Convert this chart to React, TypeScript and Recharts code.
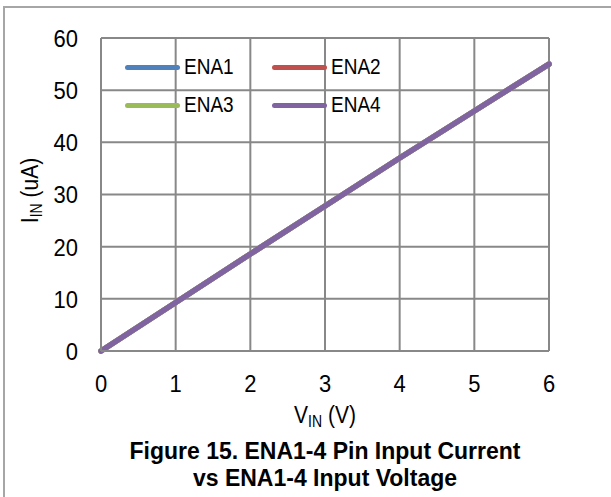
import React from "react";
import { LineChart, Line, XAxis, YAxis, CartesianGrid, Legend } from "recharts";

// V_IN (V)
const vin = [0, 1, 2, 3, 4, 5, 6];
// I_IN (uA): all four pins lie on the same line
const ena1 = [0, 9.3, 18.6, 27.8, 37, 46, 55];
const ena2 = [0, 9.3, 18.6, 27.8, 37, 46, 55];
const ena3 = [0, 9.3, 18.6, 27.8, 37, 46, 55];
const ena4 = [0, 9.3, 18.6, 27.8, 37, 46, 55];

const xTicks = [0, 1, 2, 3, 4, 5, 6];
const yTicks = [0, 10, 20, 30, 40, 50, 60];

const series = [
  { key: "ENA1", values: ena1, color: "#4F81BD" },
  { key: "ENA2", values: ena2, color: "#C0504D" },
  { key: "ENA3", values: ena3, color: "#9BBB59" },
  { key: "ENA4", values: ena4, color: "#8064A2" },
];

const data = vin.map((v, i) => {
  const row: Record<string, number> = { v };
  series.forEach((s) => (row[s.key] = s.values[i]));
  return row;
});

const FONT = "Arial, 'Liberation Sans', sans-serif";
const GRID = "#888888";
const SY = 1.12; // text in the reference is a bit taller than wide

const XTick = ({ x, y, payload }: any) => (
  <text
    transform={`translate(${x},${y}) scale(1,${SY})`}
    textAnchor="middle"
    dy="0.71em"
    fontSize={22}
    fontFamily={FONT}
    fill="#000"
  >
    {payload.value}
  </text>
);

const YTick = ({ x, y, payload }: any) => (
  <text
    transform={`translate(${x},${y}) scale(1,${SY})`}
    textAnchor="end"
    dy="0.36em"
    fontSize={22}
    fontFamily={FONT}
    fill="#000"
  >
    {payload.value}
  </text>
);

const XLabel = ({ viewBox }: any) => {
  const cx = viewBox.x + viewBox.width / 2;
  return (
    <text
      transform={`translate(${cx},${423}) scale(1,${SY})`}
      textAnchor="middle"
      fontSize={21}
      fontFamily={FONT}
      fill="#000"
    >
      V<tspan fontSize={14} dy={4}>IN</tspan>
      <tspan dy={-4}> (V)</tspan>
    </text>
  );
};

const YLabel = ({ viewBox }: any) => {
  const cy = viewBox.y + viewBox.height / 2 - 4;
  return (
    <text
      transform={`translate(${38},${cy}) rotate(-90) scale(1,${SY})`}
      textAnchor="middle"
      fontSize={21}
      fontFamily={FONT}
      fill="#000"
    >
      I<tspan fontSize={14} dy={4}>IN</tspan>
      <tspan dy={-4}> (uA)</tspan>
    </text>
  );
};

const LegendBox = () => (
  <div
    style={{
      display: "grid",
      gridTemplateColumns: "147px 120px",
      rowGap: 0,
      fontFamily: FONT,
      fontSize: 19,
    }}
  >
    {series.map((s) => (
      <div key={s.key} style={{ display: "flex", alignItems: "center", height: 38 }}>
        <div style={{ width: 55, height: 5, borderRadius: 3, background: s.color }} />
        <span style={{ marginLeft: 4, display: "inline-block", transform: `scaleY(${SY})` }}>
          {s.key}
        </span>
      </div>
    ))}
  </div>
);

export default function App() {
  return (
    <div
      style={{
        position: "absolute",
        left: 0,
        top: 0,
        width: 611,
        height: 497,
        background: "#fff",
        overflow: "hidden",
      }}
    >
      <div
        style={{
          position: "absolute",
          left: 3,
          top: 6,
          width: 700,
          height: 600,
          border: "2px solid #a6a6a6",
        }}
      />
      <div style={{ position: "absolute", left: 0, top: 0 }}>
        <LineChart
          width={611}
          height={440}
          data={data}
          margin={{ top: 38, right: 62, bottom: 0, left: 0 }}
        >
          <CartesianGrid stroke={GRID} strokeWidth={2} horizontalValues={yTicks} verticalValues={xTicks} />
          <XAxis
            dataKey="v"
            type="number"
            domain={[0, 6]}
            ticks={xTicks}
            tick={<XTick />}
            tickLine={false}
            tickSize={0}
            tickMargin={23}
            axisLine={{ stroke: GRID, strokeWidth: 2 }}
            height={89}
            label={<XLabel />}
          />
          <YAxis
            type="number"
            domain={[0, 60]}
            ticks={yTicks}
            tick={<YTick />}
            tickLine={false}
            tickSize={0}
            tickMargin={23}
            axisLine={{ stroke: GRID, strokeWidth: 2 }}
            width={101}
            label={<YLabel />}
          />
          <Legend
            layout="horizontal"
            verticalAlign="middle"
            align="center"
            content={<LegendBox />}
            wrapperStyle={{ position: "absolute", left: 125, top: 48, width: 300 }}
          />
          {series.map((s) => (
            <Line
              key={s.key}
              dataKey={s.key}
              stroke={s.color}
              strokeWidth={5.5}
              strokeLinecap="round"
              dot={false}
              isAnimationActive={false}
            />
          ))}
        </LineChart>
      </div>
      <div
        style={{
          position: "absolute",
          left: 0,
          top: 438,
          width: 650,
          textAlign: "center",
          fontFamily: FONT,
          fontWeight: "bold",
          fontSize: 23,
          lineHeight: "27px",
        }}
      >
        Figure 15. ENA1-4 Pin Input Current
        <br />
        vs ENA1-4 Input Voltage
      </div>
    </div>
  );
}
